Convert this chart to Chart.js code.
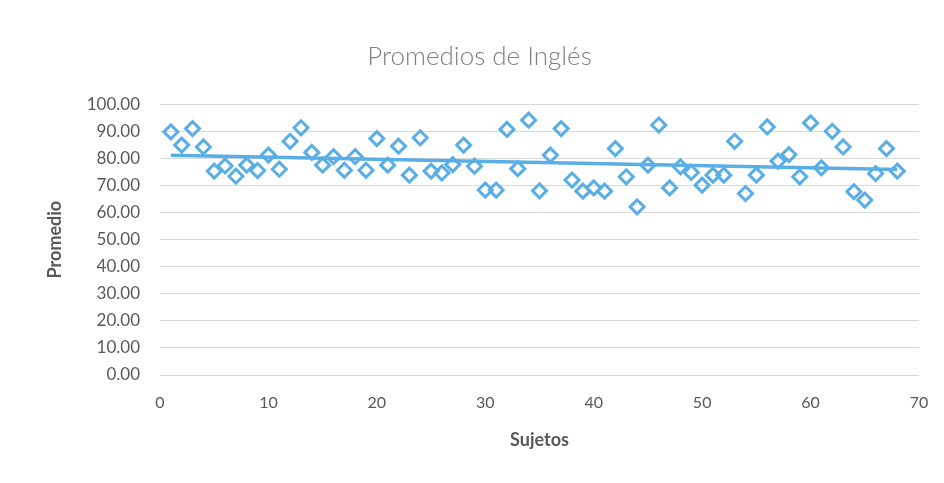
<!DOCTYPE html>
<html>
<head>
<meta charset="utf-8">
<script src="https://cdn.jsdelivr.net/npm/chart.js@4"></script>
<style>
  html, body { margin:0; padding:0; background:#ffffff; }
  #wrap { width:944px; height:483px; }
</style>
</head>
<body>
<div id="wrap"><canvas id="c" width="944" height="483"></canvas></div>
<script>
const titleText = "Promedios de Inglés";
const xTitle = "Sujetos";
const yTitle = "Promedio";
const sujetos = Array.from({length: 68}, (_, i) => i + 1);
const promedios = [
  89.8, 84.9, 91.0, 84.2, 75.3, 77.2, 73.4, 77.5, 75.5, 81.2,
  76.0, 86.3, 91.3, 82.2, 77.5, 80.6, 75.6, 80.6, 75.6, 87.3,
  77.5, 84.5, 73.8, 87.6, 75.3, 74.6, 77.7, 84.9, 77.1, 68.3,
  68.3, 90.7, 76.2, 94.1, 68.0, 81.2, 91.0, 72.0, 67.9, 69.1,
  67.9, 83.6, 73.2, 62.1, 77.5, 92.3, 69.1, 76.9, 74.8, 70.1,
  73.8, 73.8, 86.3, 67.0, 73.8, 91.6, 79.0, 81.4, 73.2, 93.1,
  76.5, 90.0, 84.2, 67.7, 64.6, 74.4, 83.6, 75.3
];
const xTicks = [0, 10, 20, 30, 40, 50, 60, 70];
const yTicks = [0, 10, 20, 30, 40, 50, 60, 70, 80, 90, 100];

// linear trendline (least squares), as in the spreadsheet
const n = sujetos.length;
const mx = sujetos.reduce((a,b)=>a+b,0)/n;
const my = promedios.reduce((a,b)=>a+b,0)/n;
let sxy = 0, sxx = 0;
for (let i = 0; i < n; i++) { sxy += (sujetos[i]-mx)*(promedios[i]-my); sxx += (sujetos[i]-mx)**2; }
const slope = sxy/sxx, icpt = my - slope*mx;
const trendX = [sujetos[0], sujetos[n-1]];
const trendPts = trendX.map(x => ({x, y: icpt + slope*x}));

const blue = '#5AAEE6';
const grey = '#595959';
const FONT = 'Lato, "Open Sans", sans-serif';

new Chart(document.getElementById('c'), {
  type: 'scatter',
  data: {
    datasets: [
      {
        label: 'Promedio',
        data: sujetos.map((x, i) => ({x, y: promedios[i]})),
        pointStyle: 'rectRot',
        pointRadius: 7,
        pointBorderWidth: 3,
        pointBackgroundColor: 'rgba(255,255,255,0)',
        pointBorderColor: blue,
        showLine: false,
        order: 1
      },
      {
        label: 'Tendencia',
        data: trendPts,
        showLine: true,
        borderColor: blue,
        borderWidth: 3.5,
        pointRadius: 0,
        order: 2
      }
    ]
  },
  options: {
    responsive: false,
    animation: false,
    layout: { padding: { left: 40, right: 25, top: 0, bottom: 28 } },
    plugins: {
      legend: { display: false },
      tooltip: { enabled: false },
      title: {
        display: true,
        text: titleText,
        color: '#7F7F7F',
        font: { family: FONT, size: 26, weight: '300' },
        padding: { top: 41, bottom: 32 }
      }
    },
    scales: {
      x: {
        type: 'linear',
        min: 0, max: 70,
        afterBuildTicks: s => { s.ticks = xTicks.map(v => ({value: v})); },
        grid: { display: false },
        border: { display: false },
        ticks: { color: grey, font: { family: FONT, size: 16 }, padding: 10 },
        title: { display: true, text: xTitle, color: grey, font: { family: FONT, size: 18, weight: 'bold' }, padding: { top: 14 } },
        afterFit: s => { s.height = 80; }
      },
      y: {
        type: 'linear',
        min: 0, max: 100,
        afterBuildTicks: s => { s.ticks = yTicks.map(v => ({value: v})); },
        grid: { color: '#D9D9D9', lineWidth: 1, drawTicks: false },
        border: { display: false },
        ticks: { color: grey, font: { family: FONT, size: 17 }, padding: 20, callback: v => Number(v).toFixed(2) },
        title: { display: true, text: yTitle, color: grey, font: { family: FONT, size: 18, weight: 'bold' }, padding: { bottom: 6 } },
        afterFit: s => { s.width = 120; }
      }
    }
  }
});
</script>
</body>
</html>
